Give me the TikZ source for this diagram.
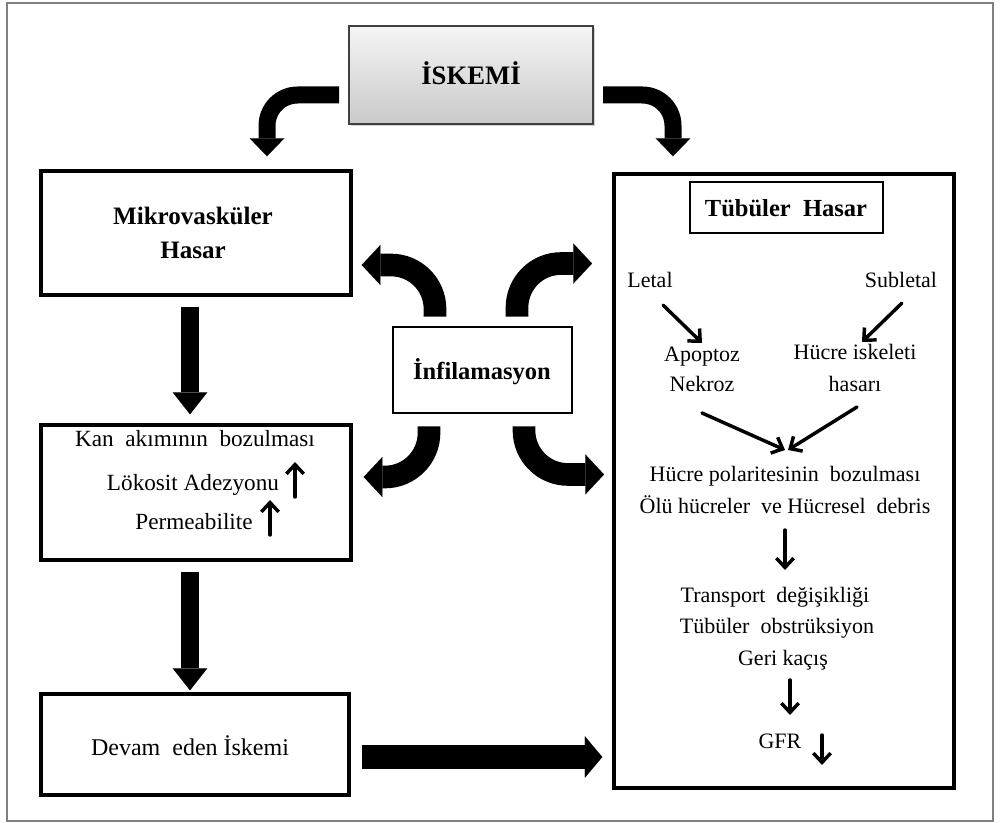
\documentclass[tikz,border=0pt]{standalone}
\usepackage{fontspec}
\setmainfont{Liberation Serif}
\usetikzlibrary{arrows.meta,shadows,calc}
\begin{document}
\begin{tikzpicture}[x=0.75pt,y=-0.75pt,
  box/.style={draw=black, line width=2.6pt, fill=white, inner sep=0pt},
  sbox/.style={draw=black, line width=2.2pt, fill=white, inner sep=0pt},
  reg/.style={font=\fontsize{16.5}{20}\selectfont, inner sep=0pt, anchor=base},
  regl/.style={font=\fontsize{17.4}{21}\selectfont, inner sep=0pt, anchor=base},
  bld/.style={font=\bfseries\fontsize{18.4}{22}\selectfont, inner sep=0pt, anchor=base},
  isarr/.style={draw=black, line width=12.75pt, rounded corners=23pt,
    -{Triangle[length=13.5pt,width=26pt,line width=0.01pt]}},
  infarr/.style={draw=black, line width=17pt, rounded corners=33pt,
    -{Triangle[length=14pt,width=30pt,line width=0.01pt]}},
  varr/.style={draw=black, line width=13pt,
    -{Triangle[length=16.5pt,width=26pt,line width=0.01pt]}},
  harr/.style={draw=black, line width=18pt,
    -{Triangle[length=13pt,width=31pt,line width=0.01pt]}},
  thinarr/.style={draw=black, line width=2.6pt, line cap=round,
    -{Straight Barb[length=7pt,width=13pt]}}
]
\useasboundingbox (0,0) rectangle (1000,823);
\fill[white] (0,0) rectangle (1000,823);
\draw[gray, line width=1.2pt] (7,3) rectangle (993,821);

% boxes
\node[draw=black!75, line width=1.5pt, top color=gray!8, bottom color=gray!42,
  drop shadow={shadow xshift=1.5pt, shadow yshift=-1.5pt, opacity=0.35},
  minimum width=183pt, minimum height=73.5pt, inner sep=0pt] (isk) at (471,75) {};
\node[box, minimum width=232.5pt, minimum height=93pt] (mikro) at (196,233) {};
\node[box, minimum width=232.5pt, minimum height=101.25pt] (kan) at (196,492.5) {};
\node[box, minimum width=231pt, minimum height=75.75pt] (devam) at (195,744.5) {};
\node[box, minimum width=255pt, minimum height=460.5pt] (tub) at (784,481) {};
\node[sbox, minimum width=144.75pt, minimum height=38.25pt] (tubh) at (786.5,207.5) {};
\node[sbox, minimum width=134.25pt, minimum height=64.5pt] (inf) at (482.5,370) {};

% texts
\node[bld, font=\bfseries\fontsize{20}{24}\selectfont] (isktxt) at (471,85) {İSKEMİ};
\node[bld, font=\bfseries\fontsize{18.8}{22}\selectfont] (mik1) at (193,225) {Mikrovasküler};
\node[bld, font=\bfseries\fontsize{18.8}{22}\selectfont] (mik2) at (193,259) {Hasar};
\node[regl] (kan1) at (195,447) {Kan\ \ akımının\ \ bozulması};
\node[regl] (lok) at (193,490) {Lökosit Adezyonu};
\node[regl] (perm) at (194,529) {Permeabilite};
\node[regl, font=\fontsize{18}{22}\selectfont] (devtxt) at (190,755) {Devam\ \ eden İskemi};
\node[bld] (inftxt) at (482,380) {İnfilamasyon};
\node[bld] (tubtxt) at (786,217) {Tübüler\ \ Hasar};
\node[reg] (letal) at (650,288) {Letal};
\node[reg] (subletal) at (901,288) {Subletal};
\node[reg] (apop) at (702,362) {Apoptoz};
\node[reg] (nekroz) at (702,392) {Nekroz};
\node[reg] (hucre1) at (855,360) {Hücre iskeleti};
\node[reg] (hucre2) at (855,392) {hasarı};
\node[reg] (pol) at (785,482) {Hücre polaritesinin\ \ bozulması};
\node[reg] (olu) at (785,513) {Ölü hücreler\ \ ve Hücresel\ \ debris};
\node[reg] (trans) at (775,602) {Transport\ \ değişikliği};
\node[reg] (obs) at (777,633) {Tübüler\ \ obstrüksiyon};
\node[reg] (geri) at (783,665) {Geri kaçış};
\node[reg] (gfr) at (780,748) {GFR};

% big block arrows
\draw[isarr] ($(isk.west)+(-9,20)$) -| ($(mikro.north)+(71,-13)$);
\draw[isarr] ($(isk.east)+(9,20)$) -| ($(tub.north)+(-111,-16)$);
\draw[varr] ($(mikro.south)+(-6,10)$) -- ($(kan.north)+(-6,-9)$);
\draw[varr] ($(kan.south)+(-6,10)$) -- ($(devam.north)+(-5,-2)$);
\draw[harr] ($(devam.east)+(11,12.5)$) -- ($(tub.west |- devam.east)+(-10,12.5)$);
\draw[infarr] ($(inf.north)+(-47.5,-9)$) |- ($(mikro.east)+(9,32)$);
\draw[infarr] ($(inf.north)+(34.5,-9)$) |- ($(inf.north)+(109.5,-62)$);
\draw[infarr] ($(inf.south)+(-53.5,12)$) |- ($(kan.east)+(11,-15.5)$);
\draw[infarr] ($(inf.south)+(41.5,12)$) |- ($(inf.south)+(121.5,60)$);

% thin arrows
\draw[thinarr] ($(letal.base)+(13,17)$) -- ($(apop.base)+(0,-19)$);
\draw[thinarr] ($(subletal.base)+(1,15)$) -- ($(hucre1.base)+(7,-18)$);
\draw[thinarr] ($(nekroz.base)+(0,21)$) -- ($(pol.base)+(0,-32)$);
\draw[thinarr] ($(hucre2.base)+(2,15)$) -- ($(pol.base)+(3,-32)$);
\draw[thinarr] ($(olu.base)+(0,17)$) -- ($(trans.base)+(10,-32)$);
\draw[thinarr] ($(geri.base)+(7,15)$) -- ($(gfr.base)+(10,-33)$);
\draw[thinarr] ($(gfr.base)+(42,-13)$) -- ($(gfr.base)+(42,17)$);
\draw[thinarr] ($(lok.base)+(102,7)$) -- ($(lok.base)+(102,-28)$);
\draw[thinarr] ($(perm.base)+(76,6)$) -- ($(perm.base)+(76,-29)$);
\end{tikzpicture}
\end{document}
